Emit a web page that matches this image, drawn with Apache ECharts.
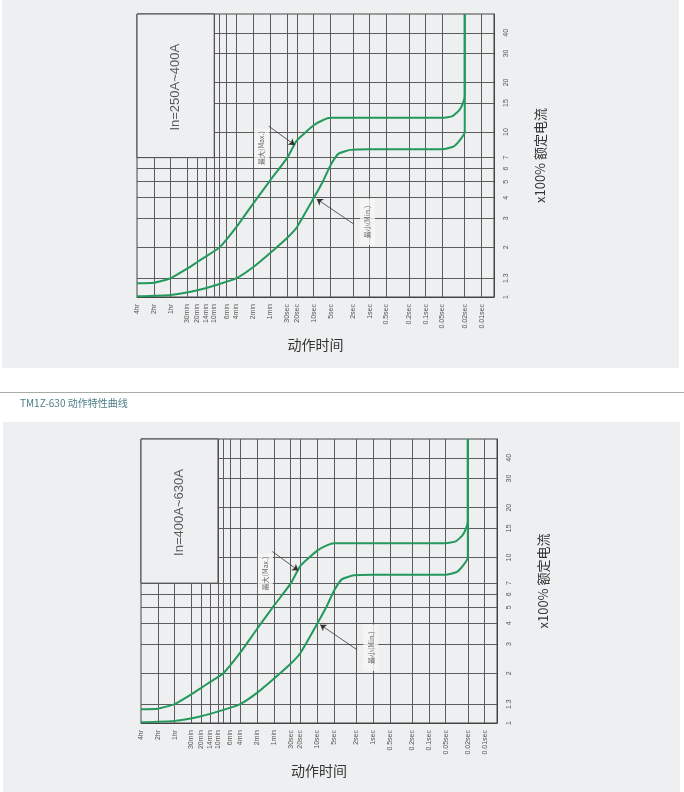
<!DOCTYPE html>
<html>
<head>
<meta charset="utf-8">
<script src="https://cdn.jsdelivr.net/npm/echarts@6/dist/echarts.min.js"></script>
<style>
html,body{margin:0;padding:0;background:#fff;}
#chart{width:684px;height:792px;}
</style>
</head>
<body>
<div id="chart"></div>
<script>
// ---- data ----
const timeTicks = [14400, 7200, 3600, 1800, 1200, 840, 600, 360, 240, 120, 60, 30, 20, 10, 5, 2, 1, 0.5, 0.2, 0.1, 0.05, 0.02, 0.01];
const timeLabels = ['4hr','2hr','1hr','30min','20min','14min','10min','6min','4min','2min','1min','30sec','20sec','10sec','5sec','2sec','1sec','0.5sec','0.2sec','0.1sec','0.05sec','0.02sec','0.01sec'];
const gridTimes = [7200, 3600, 1800, 1200, 840, 600, 480, 360, 240, 120, 60, 30, 20, 10, 5, 2, 1, 0.5, 0.2, 0.1, 0.05, 0.02, 0.01];
const currentTicks = [1, 1.3, 2, 3, 4, 5, 6, 7, 10, 15, 20, 30, 40];
const gridCurrents = [1.3, 2, 3, 4, 5, 6, 7, 10, 15, 20, 30, 40];

// Max curve (time in s, current multiple)
const maxTime    = [14400, 7200, 3600, 1800, 1200, 840, 480, 240, 120, 60, 30, 20, 10, 6.9, 5, 1, 0.05, 0.033, 0.025, 0.0215, 0.02, 0.02];
const maxCurrent = [1.21, 1.22, 1.30, 1.49, 1.63, 1.765, 2.0, 2.66, 3.7, 5.1, 6.95, 8.9, 11.0, 11.8, 12.2, 12.2, 12.2, 12.5, 13.6, 15.0, 16.5, 52];
// Min curve
const minTime    = [14400, 3600, 1200, 480, 240, 120, 60, 30, 20, 10, 6.9, 5, 3.6, 2.2, 1, 0.05, 0.032, 0.0244, 0.02, 0.02];
const minCurrent = [1.01, 1.03, 1.10, 1.20, 1.30, 1.52, 1.85, 2.28, 2.65, 3.98, 5.0, 6.3, 7.4, 7.8, 7.86, 7.86, 8.15, 8.93, 10.0, 52];

const ratingLabels = ['In=250A~400A', 'In=400A~630A'];
const boxCorner = [[14400, 52], [600, 7]];
const maxNote = {text: '最大(Max.)', at: [85, 8.0], from: [63.6, 10.86], to: [21.8, 8.35]};
const minNote = {text: '最小(Min.)', at: [1.09, 2.85], from: [1.93, 2.77], to: [8.84, 3.93]};
const ratingAt = [2913, 18.7];

// ---- layout ----
const grids = [
  {left: 137, top: 14, width: 357, height: 283},
  {left: 141, top: 439, width: 356, height: 284}
];
const BG = '#eeeff0';
const GREEN = '#23995c';
const LINE = '#5c5c5c';
const latin = '"Liberation Sans", Arial, sans-serif';
const cjk = '"Noto Sans CJK SC", "Liberation Sans", sans-serif';

function timeLabel(v) {
  for (let i = 0; i < timeTicks.length; i++) {
    if (Math.abs(Math.log(v / timeTicks[i])) < 1e-4) return timeLabels[i];
  }
  return '';
}
function pairs(xs, ys) { return xs.map((x, i) => [x, ys[i]]); }

const xAxes = [], yAxes = [], series = [];
grids.forEach((g, k) => {
  xAxes.push({
    gridIndex: k, type: 'log', logBase: 10, inverse: true, min: 0.006, max: 14400,
    name: '动作时间', nameLocation: 'middle', nameGap: 41,
    nameTextStyle: {fontFamily: cjk, fontSize: 14, color: '#333'},
    axisLine: {show: true, lineStyle: {color: '#444', width: 1}},
    axisTick: {show: false},
    splitLine: {show: false}, minorTick: {show: false}, minorSplitLine: {show: false},
    axisLabel: {customValues: timeTicks, formatter: timeLabel, rotate: 90, fontSize: 7, color: '#555', margin: 7, fontFamily: latin}
  });
  yAxes.push({
    gridIndex: k, type: 'log', logBase: 10, min: 1, max: 52, position: 'right',
    name: 'x100% 额定电流', nameLocation: 'middle', nameGap: 40, nameRotate: 90,
    nameTextStyle: {fontFamily: cjk, fontSize: 13, color: '#333'},
    axisLine: {show: true, lineStyle: {color: '#444', width: 1}},
    axisTick: {show: false},
    splitLine: {show: false}, minorTick: {show: false}, minorSplitLine: {show: false},
    axisLabel: {customValues: currentTicks, rotate: 90, fontSize: 7, color: '#555', margin: 9, fontFamily: latin}
  });
  const common = {xAxisIndex: k, yAxisIndex: k, animation: false, silent: true};
  // grid lines
  series.push(Object.assign({}, common, {
    type: 'line', data: [], z: 1,
    markLine: {
      z: 1, symbol: 'none', silent: true, animation: false, label: {show: false},
      lineStyle: {color: LINE, width: 1, type: 'solid'},
      data: gridTimes.map(t => ({xAxis: t})).concat(gridCurrents.map(c => ({yAxis: c})))
    }
  }));
  // blank box with rating
  series.push(Object.assign({}, common, {
    type: 'line', data: [], z: 6,
    markArea: {
      z: 6, silent: true, animation: false, label: {show: false},
      itemStyle: {color: BG, borderColor: '#444', borderWidth: 1, opacity: 1},
      data: [[{coord: boxCorner[0]}, {coord: boxCorner[1]}]]
    }
  }));
  // curves
  series.push(Object.assign({}, common, {
    type: 'line', name: 'Max', data: pairs(maxTime, maxCurrent), z: 3,
    showSymbol: false, smooth: 0.15, lineStyle: {color: GREEN, width: 2}
  }));
  series.push(Object.assign({}, common, {
    type: 'line', name: 'Min', data: pairs(minTime, minCurrent), z: 3,
    showSymbol: false, smooth: 0.15, lineStyle: {color: GREEN, width: 2}
  }));
  // annotations
  series.push(Object.assign({}, common, {
    type: 'scatter', z: 8, symbolSize: 0,
    data: [
      {value: ratingAt, label: {show: true, formatter: ratingLabels[k], rotate: 90, fontSize: 13, color: '#333', fontFamily: latin, position: 'inside'}},
      {value: maxNote.at, label: {show: true, formatter: maxNote.text, rotate: 90, fontSize: 7, color: '#444', fontFamily: cjk, position: 'inside', backgroundColor: '#f6f6f6', padding: [4, 3]}},
      {value: minNote.at, label: {show: true, formatter: minNote.text, rotate: 90, fontSize: 7, color: '#444', fontFamily: cjk, position: 'inside', backgroundColor: '#f6f6f6', padding: [4, 7]}}
    ],
    markLine: {
      z: 8, silent: true, animation: false, symbol: ['none', 'arrow'], symbolSize: 6,
      label: {show: false}, lineStyle: {color: '#333', width: 0.8, type: 'solid'},
      data: [
        [{coord: maxNote.from}, {coord: maxNote.to}],
        [{coord: minNote.from}, {coord: minNote.to}]
      ]
    }
  }));
});

const chart = echarts.init(document.getElementById('chart'), null, {renderer: 'canvas'});
chart.setOption({
  animation: false,
  backgroundColor: '#fff',
  graphic: [
    {type: 'rect', z: -10, shape: {x: 2, y: 0, width: 677, height: 368}, style: {fill: BG}},
    {type: 'rect', z: -10, shape: {x: 3, y: 422, width: 677, height: 370}, style: {fill: BG}},
    {type: 'line', z: -10, shape: {x1: 0, y1: 392.5, x2: 684, y2: 392.5}, style: {stroke: '#aaa', lineWidth: 1}},
    {type: 'text', z: -5, x: 20, y: 403, style: {text: 'TM1Z-630 动作特性曲线', fill: '#4d7c88', font: '10px "Noto Sans CJK SC", sans-serif', verticalAlign: 'middle'}}
  ],
  grid: grids.map(g => Object.assign({show: true, borderColor: '#444', borderWidth: 1, backgroundColor: 'transparent', containLabel: false}, g)),
  xAxis: xAxes,
  yAxis: yAxes,
  series: series
});
</script>
</body>
</html>
